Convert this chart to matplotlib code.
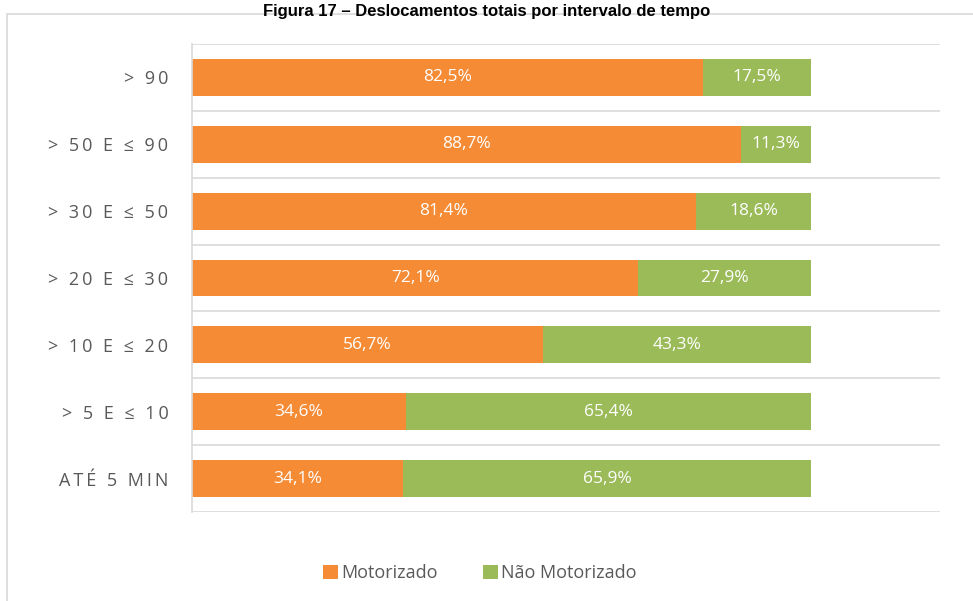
import matplotlib.pyplot as plt
import numpy as np
from matplotlib.patches import Rectangle

# Intervalos de tempo (de baixo para cima) e percentuais de cada modo
categorias = ['ATÉ 5 MIN', '> 5 E ≤ 10', '> 10 E ≤ 20', '> 20 E ≤ 30',
              '> 30 E ≤ 50', '> 50 E ≤ 90', '> 90']
motorizado = [34.1, 34.6, 56.7, 72.1, 81.4, 88.7, 82.5]
nao_motorizado = [65.9, 65.4, 43.3, 27.9, 18.6, 11.3, 17.5]
series = ['Motorizado', 'Não Motorizado']

laranja = '#F58B35'
verde = '#9BBB59'
cinza_txt = '#595959'


def espacado(txt):
    # simula o espaçamento entre letras dos rótulos do eixo
    return '\u2009'.join(txt)


plt.rcParams['font.family'] = ['Open Sans', 'DejaVu Sans']

fig = plt.figure(figsize=(9.73, 6.01), dpi=100)

# moldura do gráfico
fig.add_artist(Rectangle((7 / 973, -0.01), 1.0, 1 - 14 / 601 + 0.01,
                         transform=fig.transFigure, fill=False,
                         edgecolor='#D9D9D9', linewidth=1.2))

fig.text(0.5, 1 - 16 / 601, 'Figura 17 – Deslocamentos totais por intervalo de tempo',
         ha='center', va='baseline', fontsize=12, fontweight='bold',
         family='Liberation Sans', color='black')

ax = fig.add_axes([192 / 973, 1 - 512 / 601, (940 - 192) / 973, (512 - 44) / 601])

y = np.arange(len(categorias))
b1 = ax.barh(y, motorizado, height=0.55, color=laranja, label=series[0])
b2 = ax.barh(y, nao_motorizado, left=motorizado, height=0.55, color=verde, label=series[1])

for i in range(len(categorias)):
    ax.text(motorizado[i] / 2, y[i], f'{motorizado[i]:.1f}%'.replace('.', ','),
            ha='center', va='center', color='white', fontsize=12.5)
    ax.text(motorizado[i] + nao_motorizado[i] / 2, y[i],
            f'{nao_motorizado[i]:.1f}%'.replace('.', ','),
            ha='center', va='center', color='white', fontsize=12.5)

ax.set_xlim(0, 100 * (940 - 192) / (811 - 192))
ax.set_ylim(-0.5, len(categorias) - 0.5)
ax.set_xticks([])
ax.set_yticks(y)
ax.set_yticklabels([espacado(c) for c in categorias], color=cinza_txt, fontsize=13)
ax.tick_params(axis='y', length=0, pad=17)

# linhas separando as categorias
for b in np.arange(-0.5, len(categorias), 1.0):
    ax.axhline(b, color='#D9D9D9', linewidth=1.2, zorder=0)

for s in ['top', 'right', 'bottom']:
    ax.spines[s].set_visible(False)
ax.spines['left'].set_color('#D9D9D9')
ax.spines['left'].set_linewidth(1.2)

fig.legend(handles=[b1, b2], labels=series, loc='center',
           bbox_to_anchor=(480 / 973, 1 - 573 / 601), ncol=2, frameon=False,
           fontsize=13, handlelength=0.8, handleheight=0.8, handletextpad=0.2,
           columnspacing=2.5, labelcolor=cinza_txt)

fig.savefig('out.png', dpi=100)
